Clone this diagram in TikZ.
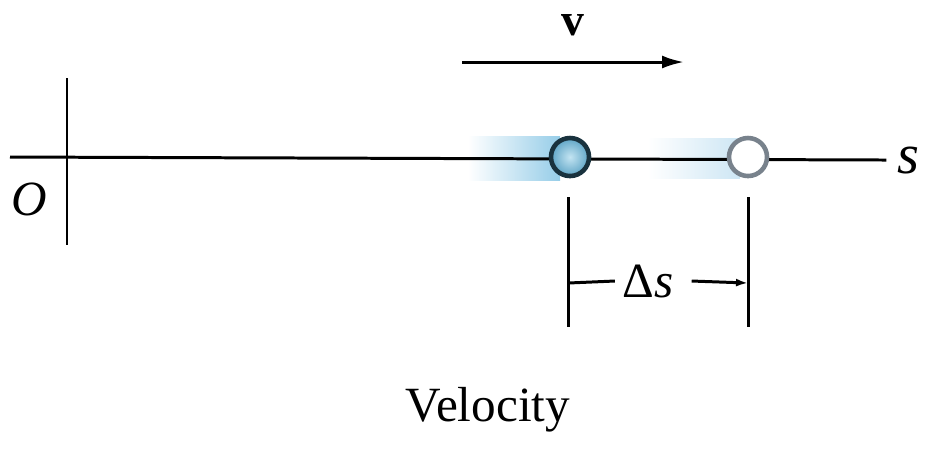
\documentclass[tikz,border=0pt]{standalone}
\usepackage{fontspec}
\setmainfont{Liberation Serif}
\usetikzlibrary{arrows.meta}
\definecolor{glowblue}{RGB}{150,205,232}
\definecolor{glowpale}{RGB}{205,230,244}
\definecolor{ballin}{RGB}{195,228,242}
\definecolor{ballout}{RGB}{95,165,198}
\definecolor{ballrim}{RGB}{25,50,62}
\definecolor{ghostrim}{RGB}{120,130,140}
\tikzset{
    thinline/.style={line width=0.85pt},
    ball/.style={circle, draw=ballrim, line width=1.3pt, minimum size=0.38cm, inner sep=0pt},
    lbl/.style={font=\fontsize{14}{16}\selectfont, inner sep=0pt},
}

\begin{document}
\begin{tikzpicture}[x=0.01cm,y=-0.01cm]
    \useasboundingbox (0,0) rectangle (925,453);

    % motion blur behind the particles
    \shade[left color=white, right color=glowblue] (468,136) rectangle (560,180);
    \shade[left color=white, right color=glowpale] (648,138) rectangle (740,178);

    % position axis
    \coordinate (axisL) at (10,157);
    \node[lbl, font=\fontsize{16}{18}\selectfont, anchor=west] (slabel) at (897,160) {\textit{s}};
    \coordinate (tickT) at (67,78);
    \coordinate (tickB) at (67,245);
    \node[lbl] (origin) at (29,199) {\textit{O}};
    \draw[thinline] (axisL) -- ([xshift=-3pt]slabel.west);
    \draw[thinline] (tickT) -- (tickB);

    % particles
    \node[ball, inner color=ballin, outer color=ballout] (now) at (570,157) {};
    \node[ball, draw=ghostrim, fill=white] (later) at (748,157) {};

    % velocity
    \coordinate (vtail) at (462,62);
    \coordinate (vhead) at (684,62);
    \node[lbl, font=\fontsize{13}{15}\selectfont\bfseries] (vlabel) at (573,25) {v};
    \draw[thinline, -{Latex[length=0.22cm, width=0.13cm]}] (vtail) -- (vhead);

    % displacement
    \coordinate (dimLtop) at (568,197);
    \coordinate (dimLbot) at (568,327);
    \coordinate (dimRtop) at (748,197);
    \coordinate (dimRbot) at (748,327);
    \coordinate (dimLmid) at (568,283);
    \coordinate (dimRmid) at (748,283);
    \node[lbl] (ds) at (648,281) {Δ\textit{s}};
    \draw[thinline] (dimLtop) -- (dimLbot);
    \draw[thinline] (dimRtop) -- (dimRbot);
    \draw[thinline] (dimLmid) -- ([xshift=-2pt]ds.west);
    \draw[thinline, -{Latex[length=0.12cm, width=0.08cm]}] ([xshift=5pt]ds.east) -- (dimRmid);

    % caption
    \node[lbl] (caption) at (488,410) {Velocity};
\end{tikzpicture}
\end{document}
